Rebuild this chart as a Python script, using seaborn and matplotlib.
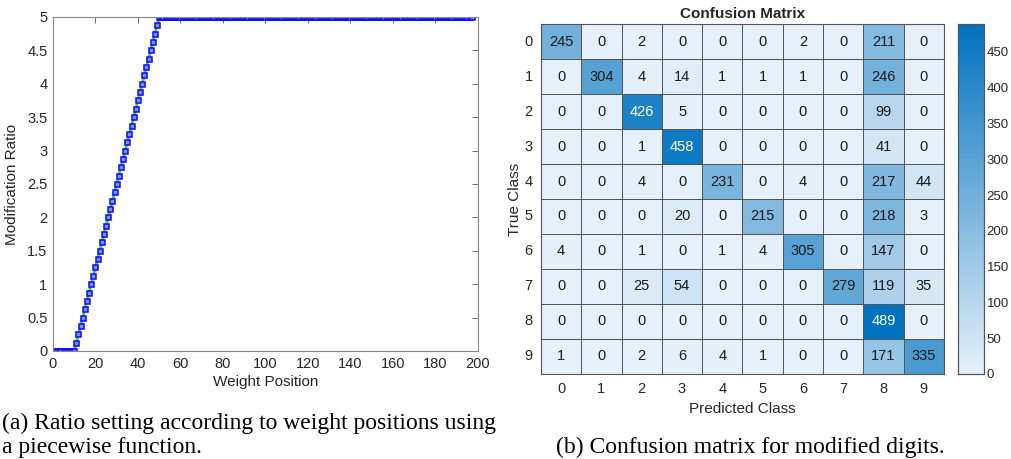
import numpy as np
import pandas as pd
import matplotlib
matplotlib.use("Agg")
import matplotlib.pyplot as plt
from matplotlib.colors import LinearSegmentedColormap
import seaborn as sns

sns.set_theme(style="white")
plt.rcParams['font.family'] = ['Liberation Sans', 'DejaVu Sans']

# ---------------- data ----------------
weight_position = list(range(1, 198))
ratio_start = [0.0] * 10
ratio_ramp = [0.125, 0.25, 0.375, 0.5, 0.625, 0.75, 0.875, 1.0,
              1.125, 1.25, 1.375, 1.5, 1.625, 1.75, 1.875, 2.0,
              2.125, 2.25, 2.375, 2.5, 2.625, 2.75, 2.875, 3.0,
              3.125, 3.25, 3.375, 3.5, 3.625, 3.75, 3.875, 4.0,
              4.125, 4.25, 4.375, 4.5, 4.625, 4.75, 4.875, 5.0]
ratio_plateau = [5.0] * 147
modification_ratio = ratio_start + ratio_ramp + ratio_plateau

classes = ['0', '1', '2', '3', '4', '5', '6', '7', '8', '9']
conf_rows = [
    [245, 0, 2, 0, 0, 0, 2, 0, 211, 0],
    [0, 304, 4, 14, 1, 1, 1, 0, 246, 0],
    [0, 0, 426, 5, 0, 0, 0, 0, 99, 0],
    [0, 0, 1, 458, 0, 0, 0, 0, 41, 0],
    [0, 0, 4, 0, 231, 0, 4, 0, 217, 44],
    [0, 0, 0, 20, 0, 215, 0, 0, 218, 3],
    [4, 0, 1, 0, 1, 4, 305, 0, 147, 0],
    [0, 0, 25, 54, 0, 0, 0, 279, 119, 35],
    [0, 0, 0, 0, 0, 0, 0, 0, 489, 0],
    [1, 0, 2, 6, 4, 1, 0, 0, 171, 335],
]
x_ticks = [0, 20, 40, 60, 80, 100, 120, 140, 160, 180, 200]
y_ticks = [0, 0.5, 1, 1.5, 2, 2.5, 3, 3.5, 4, 4.5, 5]
y_ticklabels = ['0', '0.5', '1', '1.5', '2', '2.5', '3', '3.5', '4', '4.5', '5']
cbar_ticks = [0, 50, 100, 150, 200, 250, 300, 350, 400, 450]

# ---------------- figure ----------------
fig = plt.figure(figsize=(10.11, 4.59), dpi=100)

axis_gray = '#262626'
tick_fs = 10.5

# Left: piecewise ratio
ax1 = fig.add_axes([0.0524, 0.2353, 0.4204, 0.7277])
df = pd.DataFrame({'pos': weight_position, 'ratio': modification_ratio})
sns.lineplot(data=df, x='pos', y='ratio', ax=ax1, color='#22dd22', linewidth=2.0,
             marker='s', markersize=3.6, markeredgecolor='#0a0aff',
             markerfacecolor='#8a8aff', markeredgewidth=1.1)
ax1.set_xlim(0, 200)
ax1.set_ylim(0, 5)
ax1.set_xticks(x_ticks)
ax1.set_xticklabels([str(t) for t in x_ticks])
ax1.set_yticks(y_ticks)
ax1.set_yticklabels(y_ticklabels)
ax1.tick_params(direction='in', length=4, width=0.6, color='#555555', labelsize=tick_fs,
                labelcolor=axis_gray, top=True, right=True, pad=4)
for s in ax1.spines.values():
    s.set_visible(True)
    s.set_color('#888888')
    s.set_linewidth(0.8)
ax1.set_xlabel('Weight Position', fontsize=11, color=axis_gray, labelpad=3)
ax1.set_ylabel('Modification Ratio', fontsize=11, color=axis_gray, labelpad=6)

# Right: confusion matrix
cmap = LinearSegmentedColormap.from_list('mblue', ['#e6f0fa', '#0072bd'])
cm = pd.DataFrame(conf_rows, index=classes, columns=classes)
ax2 = fig.add_axes([0.5351, 0.1852, 0.3986, 0.7625])
cax = fig.add_axes([0.9476, 0.1852, 0.0257, 0.7625])
sns.heatmap(cm, ax=ax2, cbar_ax=cax, cmap=cmap, vmin=0, vmax=489,
            annot=True, fmt='d', annot_kws={'fontsize': 10.5},
            linewidths=0.7, linecolor='#555555',
            cbar_kws={'ticks': cbar_ticks})
for txt in ax2.texts:
    v = int(txt.get_text())
    txt.set_color('white' if v > 400 else '#1a1a1a')
ax2.tick_params(length=0, labelsize=tick_fs, labelcolor=axis_gray, pad=6)
ax2.set_yticklabels(classes, rotation=0)
ax2.set_xticklabels(classes, rotation=0)
for s in ['left', 'bottom', 'top', 'right']:
    ax2.spines[s].set_visible(True)
    ax2.spines[s].set_color('#555555')
    ax2.spines[s].set_linewidth(0.8)
ax2.set_xlabel('Predicted Class', fontsize=11, color=axis_gray, labelpad=4)
ax2.set_ylabel('True Class', fontsize=11, color=axis_gray, labelpad=2)
ax2.set_title('Confusion Matrix', fontsize=11, fontweight='bold', color=axis_gray, pad=4)

cax.yaxis.set_ticks_position('right')
cax.tick_params(axis='y', direction='in', length=4, width=0.6, color='#555555',
                labelsize=9.5, labelcolor=axis_gray, left=True, right=False,
                labelright=True, labelleft=False, pad=2)
for s in cax.spines.values():
    s.set_visible(True)
    s.set_color('#555555')
    s.set_linewidth(0.8)

# Captions
cap_font = ['Liberation Serif', 'DejaVu Serif']
fig.text(0.002, 1 - 423 / 459, '(a) Ratio setting according to weight positions using',
         fontsize=17, family=cap_font, ha='left', va='center', color='black')
fig.text(0.002, 1 - 447 / 459, 'a piecewise function.',
         fontsize=17, family=cap_font, ha='left', va='center', color='black')
fig.text(750 / 1011, 1 - 447 / 459, '(b) Confusion matrix for modified digits.',
         fontsize=17, family=cap_font, ha='center', va='center', color='black')

fig.savefig('out.png', dpi=100)
